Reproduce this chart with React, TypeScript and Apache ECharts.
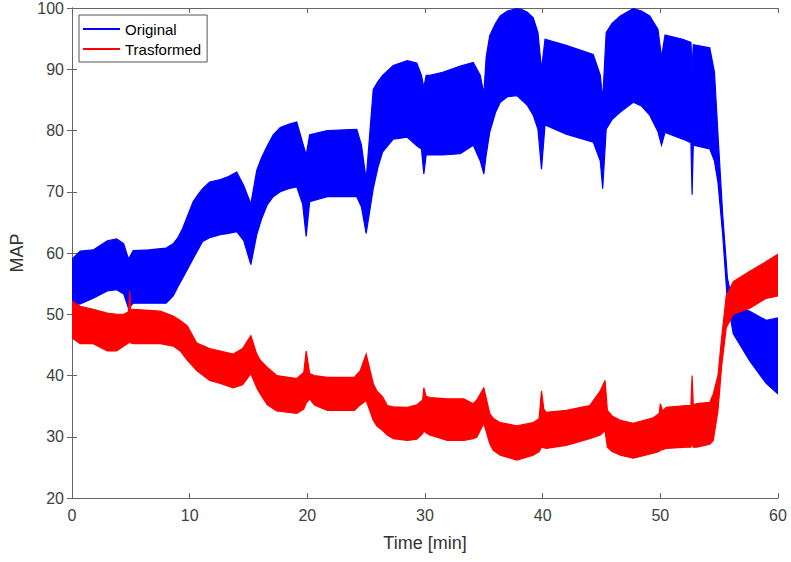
import React, { useEffect, useRef } from "react";
import * as echarts from "echarts";

// ---- Data (envelopes of the dense signals) ----
const xTicks = [0, 10, 20, 30, 40, 50, 60];
const yTicks = [20, 30, 40, 50, 60, 70, 80, 90, 100];

const seriesNames = ["Original", "Trasformed"];

const originalTime = [
  0, 0.7, 1.8, 3.0, 3.8, 4.4, 4.8, 5.2, 6.5, 8.0,
  8.6, 9.0, 9.4, 10.3, 10.7, 11.1, 11.7, 12.6, 13.3, 14.0,
  14.6, 15.2, 15.7, 16.1, 16.6, 17.1, 17.7, 18.4, 19.1, 19.6,
  19.9, 20.2, 21.7, 24.2, 24.6, 25.0, 25.6, 26.0, 26.4, 27.3,
  28.5, 29.3, 29.7, 29.9, 30.1, 30.4, 31.5, 33.0, 34.1, 34.7,
  35.0, 35.2, 35.5, 36.0, 36.4, 37.0, 37.8, 38.2, 38.7, 39.2,
  39.6, 39.9, 40.2, 42.0, 44.3, 44.9, 45.1, 45.4, 45.9, 46.6,
  47.7, 48.4, 49.1, 49.8, 50.1, 50.4, 51.9, 52.6, 52.7, 52.8,
  54.2, 54.6, 54.9, 55.3, 55.7, 56.2, 57.6, 59.0, 60.0,
];
const originalLow = [
  51.5, 51.7, 52.6, 53.8, 54.0, 53.3, 51.0, 51.8, 51.8, 51.8,
  53.0, 54.5, 55.9, 59.1, 60.5, 61.9, 62.5, 63.0, 63.2, 63.5,
  62.0, 58.1, 63.0, 65.5, 67.9, 69.2, 70.0, 70.5, 70.8, 68.0,
  62.7, 68.4, 69.2, 69.2, 67.5, 63.2, 70.5, 74.0, 76.5, 78.6,
  78.9, 77.5, 77.0, 72.9, 76.0, 76.0, 76.0, 76.2, 77.6, 75.0,
  72.9, 76.0, 79.7, 83.0, 84.6, 85.5, 85.7, 85.0, 84.1, 82.5,
  80.2, 73.7, 80.9, 79.4, 78.1, 75.0, 70.5, 80.2, 81.8, 83.0,
  84.6, 84.0, 82.5, 79.8, 77.6, 79.7, 78.6, 78.0, 69.5, 77.6,
  77.0, 75.0, 71.5, 63.0, 52.1, 46.8, 42.4, 38.7, 37.0,
];
const originalHigh = [
  59.0, 60.3, 60.5, 62.0, 62.3, 61.5, 59.0, 60.4, 60.5, 60.8,
  61.5, 62.5, 64.0, 68.4, 69.5, 70.5, 71.6, 72.0, 72.5, 73.2,
  71.0, 68.0, 73.5, 75.5, 77.5, 79.3, 80.5, 81.0, 81.4, 78.0,
  76.0, 79.3, 80.0, 80.2, 77.6, 72.0, 86.7, 88.0, 89.0, 90.6,
  91.4, 91.0, 89.0, 87.0, 89.0, 89.0, 89.5, 90.5, 91.1, 89.0,
  86.0, 92.0, 95.5, 97.5, 98.7, 99.5, 99.9, 99.8, 99.3, 98.4,
  96.0, 90.0, 94.9, 93.9, 92.4, 89.0, 85.0, 96.0, 97.5, 98.7,
  99.9, 99.5, 98.7, 96.5, 92.0, 95.6, 94.9, 94.4, 90.0, 94.0,
  93.5, 89.5, 79.3, 66.3, 55.9, 51.5, 50.5, 49.0, 49.4,
];

const transformedTime = [
  0, 0.7, 1.8, 3.0, 3.8, 4.4, 4.8, 4.9, 5.0, 5.2,
  7.5, 8.6, 9.2, 9.8, 10.6, 11.7, 12.6, 13.7, 14.5, 15.2,
  15.7, 16.0, 16.6, 17.4, 19.1, 19.7, 19.9, 20.2, 20.6, 21.7,
  24.0, 24.5, 25.0, 25.6, 25.9, 26.4, 26.8, 27.3, 28.5, 29.3,
  29.8, 29.9, 30.1, 30.4, 31.9, 33.3, 34.1, 34.4, 35.0, 35.5,
  35.8, 36.4, 37.8, 39.2, 39.7, 39.9, 40.1, 40.3, 42.0, 44.0,
  44.9, 45.3, 45.5, 45.9, 46.6, 47.7, 49.4, 49.9, 50.0, 50.2,
  50.5, 52.2, 52.6, 52.7, 52.8, 53.1, 54.2, 54.5, 54.9, 55.2,
  55.6, 56.2, 57.6, 59.0, 60.0,
];
const transformedLow = [
  46.1, 45.2, 45.2, 44.0, 44.0, 44.8, 45.3, 45.5, 45.3, 45.2,
  45.2, 44.8, 44.0, 42.5, 40.8, 39.2, 38.7, 38.0, 38.5, 40.3,
  38.0, 37.0, 35.2, 34.2, 33.8, 34.5, 35.5, 36.2, 35.2, 34.3,
  34.3, 35.2, 35.9, 32.7, 31.8, 31.0, 30.3, 29.7, 29.4, 29.6,
  30.5, 31.0, 30.6, 30.3, 29.4, 29.4, 29.7, 29.9, 32.2, 28.9,
  27.8, 27.0, 26.2, 27.0, 27.6, 28.3, 28.2, 28.1, 28.6, 29.7,
  30.3, 31.0, 28.3, 27.6, 27.0, 26.5, 27.3, 27.6, 27.8, 27.9,
  28.1, 28.3, 28.3, 29.0, 28.3, 28.3, 28.8, 29.4, 34.3, 41.3,
  47.8, 50.0, 51.0, 52.6, 53.0,
];
const transformedHigh = [
  52.1, 51.3, 50.8, 50.2, 50.0, 50.0, 50.4, 53.8, 50.6, 50.8,
  50.5, 49.7, 49.0, 48.1, 45.3, 44.4, 44.0, 43.5, 44.4, 46.5,
  43.5, 42.5, 41.3, 40.0, 39.5, 40.5, 44.0, 40.3, 40.0, 39.7,
  39.7, 40.8, 43.5, 38.7, 37.5, 36.5, 35.1, 34.9, 34.8, 35.2,
  36.0, 38.0, 36.6, 36.4, 36.2, 36.2, 35.4, 36.0, 38.0, 33.8,
  33.0, 32.3, 31.8, 32.3, 33.0, 37.5, 34.5, 34.0, 34.3, 35.1,
  37.5, 39.2, 34.3, 33.4, 32.7, 32.2, 33.1, 33.8, 35.4, 34.2,
  34.8, 35.1, 35.1, 40.0, 35.2, 35.4, 35.6, 37.0, 40.0, 46.0,
  53.0, 55.3, 57.0, 58.6, 59.8,
];

const BLUE = "#0000ff";
const RED = "#ff0000";
const FONT = "Liberation Sans, Arial, Helvetica, sans-serif";

function bandSeries(name: string, t: number[], lo: number[], hi: number[], color: string, z: number) {
  return {
    name,
    type: "custom",
    xAxisIndex: 0,
    yAxisIndex: 0,
    z,
    clip: true,
    itemStyle: { color },
    data: [[t[0], lo[0]]],
    renderItem: (_params: any, api: any) => {
      const pts: number[][] = [];
      for (let i = 0; i < t.length; i++) pts.push(api.coord([t[i], hi[i]]));
      for (let i = t.length - 1; i >= 0; i--) pts.push(api.coord([t[i], lo[i]]));
      return {
        type: "polygon",
        shape: { points: pts },
        style: { fill: color, stroke: color, lineWidth: 1.2 },
      };
    },
  };
}

export default function App() {
  const ref = useRef<HTMLDivElement>(null);
  useEffect(() => {
    if (!ref.current) return;
    const chart = echarts.init(ref.current, null, { renderer: "svg" });
    const axisLine = { show: true, lineStyle: { color: "#666666", width: 1 } };
    const tick = { show: true, inside: true, length: 5, lineStyle: { color: "#666666" } };
    const labelStyle = { color: "#404040", fontSize: 16, fontFamily: FONT };
    chart.setOption({
      animation: false,
      backgroundColor: "#ffffff",
      grid: { left: 72, right: 13, top: 5, bottom: 64, containLabel: false },
      legend: {
        data: seriesNames,
        orient: "vertical",
        left: 79,
        top: 15,
        icon: "rect",
        itemWidth: 37,
        itemHeight: 2,
        itemGap: 2,
        padding: [5, 6, 4, 4],
        borderColor: "#555555",
        borderWidth: 1,
        backgroundColor: "#ffffff",
        textStyle: { color: "#000000", fontSize: 15, lineHeight: 18, fontFamily: FONT },
      },
      xAxis: [
        {
          type: "value",
          min: xTicks[0],
          max: xTicks[xTicks.length - 1],
          interval: 10,
          position: "bottom",
          name: "Time [min]",
          nameLocation: "middle",
          nameGap: 36,
          nameTextStyle: { color: "#333333", fontSize: 18, fontFamily: FONT },
          axisLine,
          axisTick: tick,
          axisLabel: { ...labelStyle, margin: 9 },
          splitLine: { show: false },
        },
        {
          type: "value",
          min: xTicks[0],
          max: xTicks[xTicks.length - 1],
          interval: 10,
          position: "top",
          axisLine,
          axisTick: tick,
          axisLabel: { show: false },
          splitLine: { show: false },
        },
      ],
      yAxis: [
        {
          type: "value",
          min: yTicks[0],
          max: yTicks[yTicks.length - 1],
          interval: 10,
          position: "left",
          name: "MAP",
          nameLocation: "middle",
          nameGap: 42,
          nameTextStyle: { color: "#333333", fontSize: 18, fontFamily: FONT },
          axisLine,
          axisTick: tick,
          axisLabel: { ...labelStyle, margin: 8 },
          splitLine: { show: false },
        },
        {
          type: "value",
          min: yTicks[0],
          max: yTicks[yTicks.length - 1],
          interval: 10,
          position: "right",
          axisLine,
          axisTick: tick,
          axisLabel: { show: false },
          splitLine: { show: false },
        },
      ],
      series: [
        bandSeries(seriesNames[0], originalTime, originalLow, originalHigh, BLUE, 2),
        bandSeries(seriesNames[1], transformedTime, transformedLow, transformedHigh, RED, 3),
      ],
    });
    return () => chart.dispose();
  }, []);
  return (
    <div
      ref={ref}
      style={{ position: "fixed", left: 0, top: 0, width: 791, height: 562, background: "#fff" }}
    />
  );
}
